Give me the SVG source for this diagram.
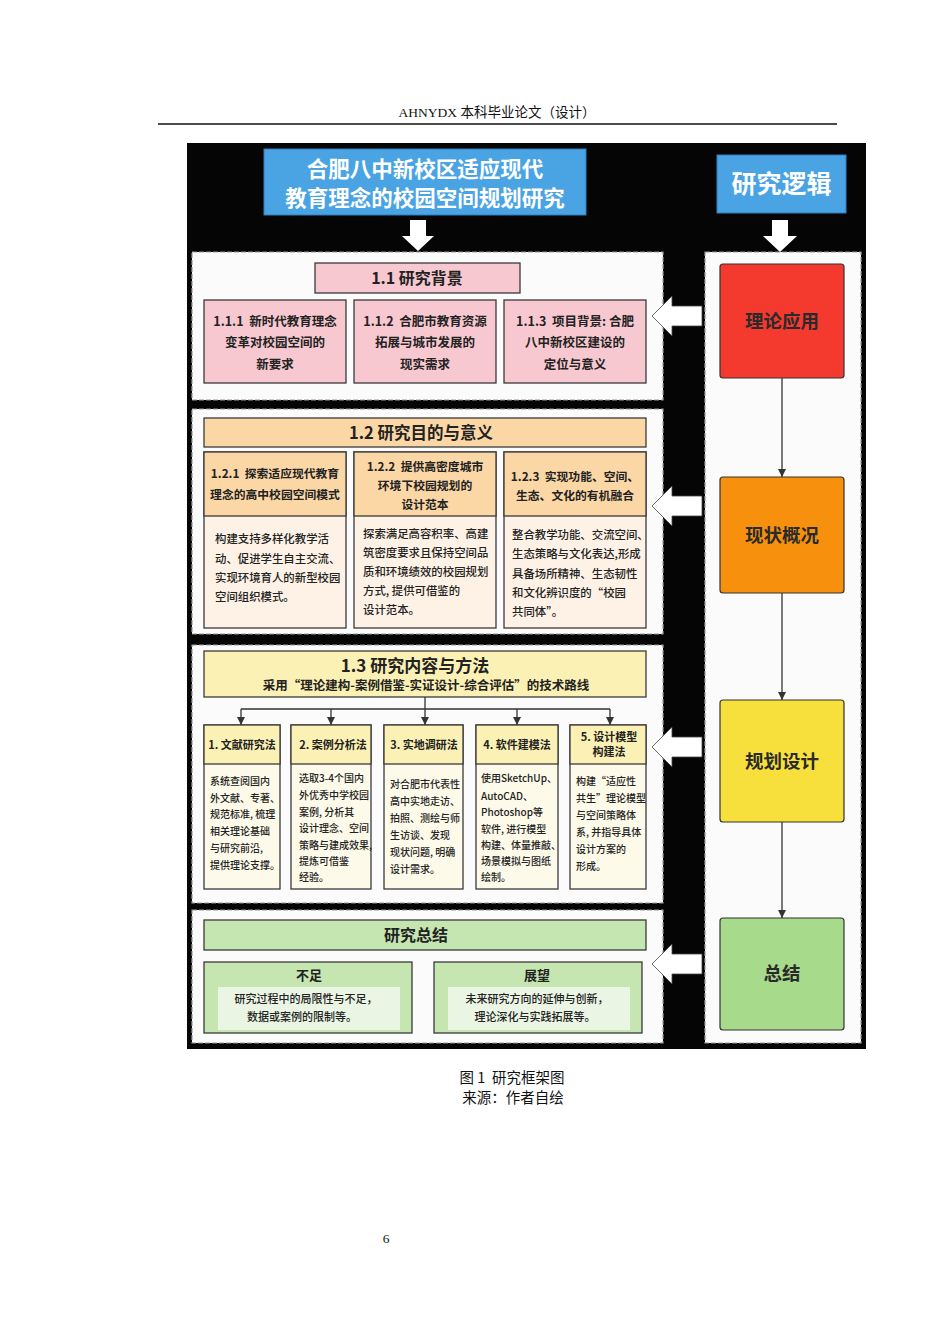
<svg xmlns="http://www.w3.org/2000/svg" width="950" height="1344" viewBox="0 0 950 1344" xml:space="preserve">
<style>
text{font-family:"Noto Sans CJK SC","Noto Sans",sans-serif;fill:#222;white-space:pre}
.serif{font-family:"Liberation Serif","Noto Sans CJK SC",serif;fill:#111}
.panel{fill:#fbfbfb;stroke:#9a9a9a;stroke-width:1.2;stroke-dasharray:5 2}
.box{stroke:#3a3a3a;stroke-width:1.3}
.pink{fill:#f8c8d0}
.org{fill:#fcd7a6}
.orgb{fill:#fdf2e5}
.yel{fill:#fcf1b4}
.yelb{fill:#fdfaea}
.grn{fill:#c6e6b1}
.grnin{fill:#eaf5e3}
.t{font-weight:700;text-anchor:middle}
.c{text-anchor:middle}
.b1{font-size:12.5px;font-weight:700;text-anchor:middle}
.h2{font-size:11.8px;font-weight:700;text-anchor:middle}
.body2{font-size:11.4px;font-weight:500}
.mh{font-size:11px;font-weight:700;text-anchor:middle}
.mb{font-size:10px;font-weight:500}
.warr{fill:#fff;stroke:#444;stroke-width:0.8}
.conn{stroke:#333;stroke-width:1.3;fill:none}
.rc{font-size:18.5px;font-weight:700;text-anchor:middle;fill:#2a2a2a}
</style>
<defs>
<marker id="ah" viewBox="0 0 10 10" refX="10" refY="5" markerWidth="8" markerHeight="8" markerUnits="userSpaceOnUse" orient="auto">
<path d="M0,0 L10,5 L0,10 z" fill="#333"/>
</marker>
</defs>

<g id="page-header">
<text class="serif" x="497" y="117" font-size="13.5" text-anchor="middle">AHNYDX 本科毕业论文（设计）</text>
<line x1="158" y1="124" x2="837" y2="124" stroke="#111" stroke-width="1.6"/>
</g>

<rect x="187" y="143" width="679" height="906" fill="#050505"/>

<g id="title">
<rect x="264" y="149" width="322" height="66" fill="#4aa3e2" stroke="#2f7fbf" stroke-width="1"/>
<text class="t" x="425" y="177" font-size="21.5" style="fill:#fff">合肥八中新校区适应现代</text>
<text class="t" x="425" y="206" font-size="21.5" style="fill:#fff">教育理念的校园空间规划研究</text>
</g>

<g id="logic-title">
<rect x="717" y="155" width="129" height="58" fill="#4aa3e2" stroke="#2f7fbf" stroke-width="1"/>
<text class="t" x="781.5" y="193" font-size="25" style="fill:#fff">研究逻辑</text>
</g>

<g id="down-arrows">
<polygon points="410,220 426,220 426,236 434,236 418,251 402,236 410,236" fill="#fff"/>
<polygon points="772,220 788,220 788,236 797,236 780,252 763,236 772,236" fill="#fff"/>
</g>

<rect class="panel" x="192" y="252" width="471" height="148"/>
<rect class="panel" x="192" y="409" width="471" height="225"/>
<rect class="panel" x="192" y="645" width="471" height="258"/>
<rect class="panel" x="192" y="910" width="471" height="133"/>
<rect class="panel" x="705" y="252" width="156" height="791"/>

<g id="s1-1">
<rect class="box pink" x="315" y="263" width="205" height="30"/>
<text class="t" x="417" y="284" font-size="16">1.1 研究背景</text>
</g>
<g id="s1-1-1">
<rect class="box pink" x="204" y="300" width="142" height="83"/>
<text class="b1" x="275" y="326">1.1.1  新时代教育理念</text>
<text class="b1" x="275" y="347">变革对校园空间的</text>
<text class="b1" x="275" y="369">新要求</text>
</g>
<g id="s1-1-2">
<rect class="box pink" x="354" y="300" width="142" height="83"/>
<text class="b1" x="425" y="326">1.1.2  合肥市教育资源</text>
<text class="b1" x="425" y="347">拓展与城市发展的</text>
<text class="b1" x="425" y="369">现实需求</text>
</g>
<g id="s1-1-3">
<rect class="box pink" x="504" y="300" width="142" height="83"/>
<text class="b1" x="575" y="326">1.1.3  项目背景: 合肥</text>
<text class="b1" x="575" y="347">八中新校区建设的</text>
<text class="b1" x="575" y="369">定位与意义</text>
</g>

<g id="s1-2">
<rect class="box org" x="204" y="418" width="442" height="29"/>
<text class="t" x="421" y="439" font-size="16.5">1.2 研究目的与意义</text>
</g>
<g id="s1-2-1">
<rect class="box orgb" x="204" y="452" width="142" height="176"/>
<rect class="box org" x="204" y="452" width="142" height="64"/>
<text class="h2" x="275" y="478">1.2.1  探索适应现代教育</text>
<text class="h2" x="275" y="499">理念的高中校园空间模式</text>
<text class="body2" x="215" y="543">构建支持多样化教学活</text>
<text class="body2" x="215" y="563">动、促进学生自主交流、</text>
<text class="body2" x="215" y="582">实现环境育人的新型校园</text>
<text class="body2" x="215" y="601">空间组织模式。</text>
</g>
<g id="s1-2-2">
<rect class="box orgb" x="354" y="452" width="142" height="176"/>
<rect class="box org" x="354" y="452" width="142" height="64"/>
<text class="h2" x="425" y="471">1.2.2  提供高密度城市</text>
<text class="h2" x="425" y="490">环境下校园规划的</text>
<text class="h2" x="425" y="509">设计范本</text>
<text class="body2" x="363" y="538">探索满足高容积率、高建</text>
<text class="body2" x="363" y="557">筑密度要求且保持空间品</text>
<text class="body2" x="363" y="576">质和环境绩效的校园规划</text>
<text class="body2" x="363" y="595">方式, 提供可借鉴的</text>
<text class="body2" x="363" y="614">设计范本。</text>
</g>
<g id="s1-2-3">
<rect class="box orgb" x="504" y="452" width="142" height="176"/>
<rect class="box org" x="504" y="452" width="142" height="64"/>
<text class="h2" x="575" y="481">1.2.3  实现功能、空间、</text>
<text class="h2" x="575" y="500">生态、文化的有机融合</text>
<text class="body2" x="512" y="539" font-size="11">整合教学功能、交流空间、</text>
<text class="body2" x="512" y="558" font-size="11">生态策略与文化表达,形成</text>
<text class="body2" x="512" y="578" font-size="11">具备场所精神、生态韧性</text>
<text class="body2" x="512" y="597" font-size="11">和文化辨识度的“校园</text>
<text class="body2" x="512" y="616" font-size="11">共同体”。</text>
</g>

<g id="s1-3">
<rect class="box yel" x="204" y="651" width="442" height="46"/>
<text class="t" x="415" y="672" font-size="17">1.3 研究内容与方法</text>
<text class="t" x="426" y="690" font-size="12.5">采用“理论建构-案例借鉴-实证设计-综合评估”的技术路线</text>
</g>

<g id="m1">
<rect class="box yelb" x="204" y="725" width="76" height="164"/>
<rect class="box yel" x="204" y="725" width="76" height="39"/>
<text class="mh" x="242" y="749">1. 文献研究法</text>
<text class="mb" x="210" y="785">系统查阅国内</text>
<text class="mb" x="210" y="802">外文献、专著、</text>
<text class="mb" x="210" y="818">规范标准, 梳理</text>
<text class="mb" x="210" y="835">相关理论基础</text>
<text class="mb" x="210" y="852">与研究前沿,</text>
<text class="mb" x="210" y="869">提供理论支撑。</text>
</g>
<g id="m2">
<rect class="box yelb" x="291" y="725" width="80" height="164"/>
<rect class="box yel" x="291" y="725" width="80" height="39"/>
<text class="mh" x="333" y="749">2. 案例分析法</text>
<text class="mb" x="299" y="782">选取3-4个国内</text>
<text class="mb" x="299" y="799">外优秀中学校园</text>
<text class="mb" x="299" y="816">案例, 分析其</text>
<text class="mb" x="299" y="832">设计理念、空间</text>
<text class="mb" x="299" y="849">策略与建成效果,</text>
<text class="mb" x="299" y="865">提炼可借鉴</text>
<text class="mb" x="299" y="881">经验。</text>
</g>
<g id="m3">
<rect class="box yelb" x="384" y="725" width="79" height="164"/>
<rect class="box yel" x="384" y="725" width="79" height="39"/>
<text class="mh" x="424" y="749">3. 实地调研法</text>
<text class="mb" x="390" y="788">对合肥市代表性</text>
<text class="mb" x="390" y="805">高中实地走访、</text>
<text class="mb" x="390" y="822">拍照、测绘与师</text>
<text class="mb" x="390" y="839">生访谈、发现</text>
<text class="mb" x="390" y="856">现状问题, 明确</text>
<text class="mb" x="390" y="873">设计需求。</text>
</g>
<g id="m4">
<rect class="box yelb" x="476" y="725" width="82" height="164"/>
<rect class="box yel" x="476" y="725" width="82" height="39"/>
<text class="mh" x="517" y="749">4. 软件建模法</text>
<text class="mb" x="481" y="782">使用SketchUp、</text>
<text class="mb" x="481" y="800">AutoCAD、</text>
<text class="mb" x="481" y="816">Photoshop等</text>
<text class="mb" x="481" y="833">软件, 进行模型</text>
<text class="mb" x="481" y="849">构建、体量推敲、</text>
<text class="mb" x="481" y="865">场景模拟与图纸</text>
<text class="mb" x="481" y="881">绘制。</text>
</g>
<g id="m5">
<rect class="box yelb" x="570" y="725" width="76" height="164"/>
<rect class="box yel" x="570" y="725" width="76" height="39"/>
<text class="mh" x="609" y="741">5. 设计模型</text>
<text class="mh" x="609" y="756">构建法</text>
<text class="mb" x="576" y="785">构建“适应性</text>
<text class="mb" x="576" y="802">共生”理论模型</text>
<text class="mb" x="576" y="819">与空间策略体</text>
<text class="mb" x="576" y="836">系, 并指导具体</text>
<text class="mb" x="576" y="853">设计方案的</text>
<text class="mb" x="576" y="870">形成。</text>
</g>

<g id="summary">
<rect class="box grn" x="204" y="920" width="442" height="30"/>
<text class="t" x="416" y="941" font-size="16">研究总结</text>
</g>
<g id="shortcoming">
<rect class="box grn" x="204" y="962" width="208" height="71"/>
<rect class="grnin" x="218" y="987" width="182" height="43"/>
<text class="t" x="309" y="980" font-size="13">不足</text>
<text class="c" x="306" y="1003" font-size="11" font-weight="500">研究过程中的局限性与不足，</text>
<text class="c" x="302" y="1021" font-size="11" font-weight="500">数据或案例的限制等。</text>
</g>
<g id="outlook">
<rect class="box grn" x="434" y="962" width="208" height="71"/>
<rect class="grnin" x="448" y="987" width="182" height="43"/>
<text class="t" x="537" y="980" font-size="13">展望</text>
<text class="c" x="537" y="1003" font-size="11" font-weight="500">未来研究方向的延伸与创新，</text>
<text class="c" x="535" y="1021" font-size="11" font-weight="500">理论深化与实践拓展等。</text>
</g>

<g id="r1">
<rect x="720" y="264" width="124" height="114" rx="3" fill="#f43a2f" stroke="#333" stroke-width="1.2"/>
<text class="rc" x="782" y="328">理论应用</text>
</g>
<g id="r2">
<rect x="720" y="477" width="124" height="116" rx="3" fill="#f7910d" stroke="#333" stroke-width="1.2"/>
<text class="rc" x="782" y="542">现状概况</text>
</g>
<g id="r3">
<rect x="720" y="700" width="124" height="122" rx="3" fill="#f8e03c" stroke="#333" stroke-width="1.2"/>
<text class="rc" x="782" y="768">规划设计</text>
</g>
<g id="r4">
<rect x="720" y="918" width="124" height="112" rx="3" fill="#a8da8b" stroke="#333" stroke-width="1.2"/>
<text class="rc" x="782" y="980">总结</text>
</g>

<g id="connectors">
<line class="conn" x1="782" y1="378" x2="782" y2="477" marker-end="url(#ah)"/>
<line class="conn" x1="782" y1="593" x2="782" y2="700" marker-end="url(#ah)"/>
<line class="conn" x1="782" y1="822" x2="782" y2="918" marker-end="url(#ah)"/>
<path class="conn" d="M425,697 V709 M241,709 H610"/>
<line class="conn" x1="241" y1="709" x2="241" y2="725" marker-end="url(#ah)"/>
<line class="conn" x1="331" y1="709" x2="331" y2="725" marker-end="url(#ah)"/>
<line class="conn" x1="425" y1="709" x2="425" y2="725" marker-end="url(#ah)"/>
<line class="conn" x1="517" y1="709" x2="517" y2="725" marker-end="url(#ah)"/>
<line class="conn" x1="610" y1="709" x2="610" y2="725" marker-end="url(#ah)"/>
<polygon class="warr" points="652,316 672,296 672,306 702,306 702,326 672,326 672,336"/>
<polygon class="warr" points="652,506 672,486 672,496 702,496 702,516 672,516 672,526"/>
<polygon class="warr" points="652,747 672,727 672,737 702,737 702,757 672,757 672,767"/>
<polygon class="warr" points="652,964 672,944 672,954 702,954 702,974 672,974 672,984"/>
</g>

<g id="caption">
<text x="512" y="1083" font-size="14.5" text-anchor="middle" style="fill:#111">图 1  研究框架图</text>
<text x="513" y="1103" font-size="14.5" text-anchor="middle" style="fill:#111">来源：作者自绘</text>
<text class="serif" x="386" y="1243" font-size="13.5" text-anchor="middle">6</text>
</g>
</svg>
